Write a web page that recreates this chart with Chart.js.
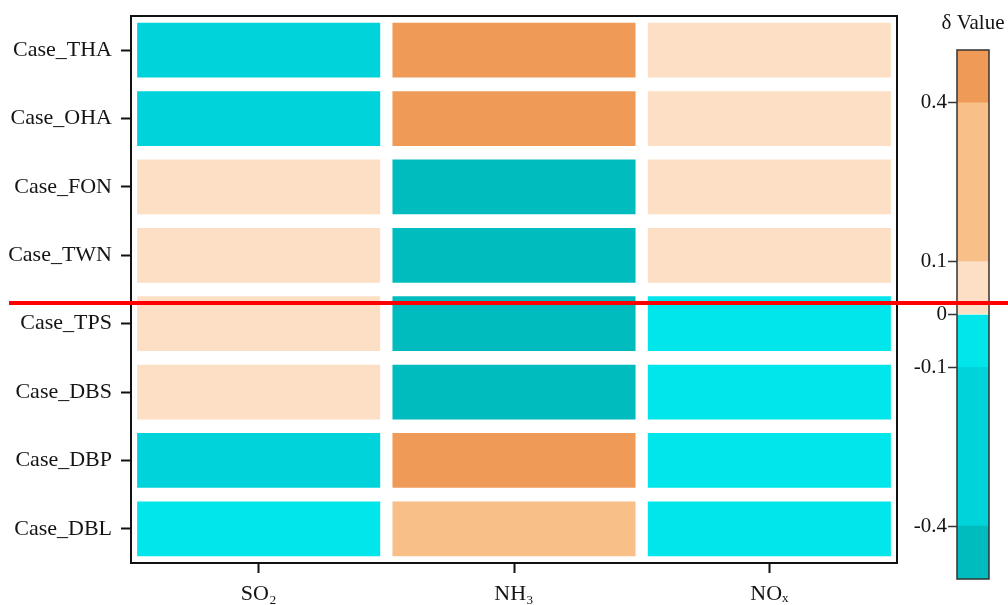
<!DOCTYPE html>
<html>
<head>
<meta charset="utf-8">
<script src="https://cdn.jsdelivr.net/npm/chart.js@4.4.1/dist/chart.umd.min.js"></script>
<style>
  html, body { margin: 0; padding: 0; background: #ffffff; }
  #wrap { position: relative; width: 1008px; height: 605px; }
  canvas { position: absolute; left: 0; top: 0; }
  #cb { pointer-events: none; }
</style>
</head>
<body>
<div id="wrap">
  <canvas id="heat" width="1008" height="605"></canvas>
  <canvas id="cb" width="1008" height="605"></canvas>
</div>
<script>
// Cases (rows) and pollutants (columns)
const cases = ['Case_THA', 'Case_OHA', 'Case_FON', 'Case_TWN', 'Case_TPS', 'Case_DBS', 'Case_DBP', 'Case_DBL'];
const pollutants = ['SO\u2082', 'NH\u2083', 'NO\u2093'];

// δ values per pollutant, one entry per case
const so2 = [-0.25, -0.27, 0.05, 0.06, 0.04, 0.05, -0.22, -0.06];
const nh3 = [0.45, 0.46, -0.45, -0.44, -0.46, -0.43, 0.44, 0.25];
const nox = [0.05, 0.06, 0.04, 0.05, -0.05, -0.06, -0.07, -0.05];

// Discrete colour bins of the δ scale
const binEdges = [-0.5, -0.4, -0.1, 0, 0.1, 0.4, 0.5];
const binColors = ['#00BCBE', '#00D4DA', '#00E6EA', '#FCDFC4', '#F9BF88', '#F09A58'];
const cbTicks = [0.4, 0.1, 0, -0.1, -0.4];

const serif = "'Liberation Serif', 'Times New Roman', serif";
const ink = '#141414';

function colorFor(v) {
  for (let i = 0; i < binColors.length; i++) {
    if (v >= binEdges[i] && v < binEdges[i + 1]) return binColors[i];
  }
  return v < binEdges[0] ? binColors[0] : binColors[binColors.length - 1];
}

const columns = [so2, nh3, nox];
const HALF = 0.4; // half height of a cell in row units

// one dataset per case: a floating bar per pollutant spanning the row
const heatDatasets = cases.map((name, r) => ({
  label: name,
  data: columns.map(() => [r - HALF, r + HALF]),
  backgroundColor: columns.map(col => colorFor(col[r])),
  borderWidth: 0,
  grouped: false,
  barPercentage: 0.952,
  categoryPercentage: 1.0
}));

const frame = {
  id: 'frame',
  afterDatasetsDraw(chart) {
    const { ctx, chartArea: a } = chart;
    ctx.save();
    ctx.strokeStyle = '#111';
    ctx.lineWidth = 2;
    ctx.strokeRect(a.left, a.top, a.right - a.left, a.bottom - a.top);
    ctx.restore();
  }
};

new Chart(document.getElementById('heat'), {
  type: 'bar',
  data: { labels: pollutants, datasets: heatDatasets },
  options: {
    responsive: false,
    animation: false,
    devicePixelRatio: 1,
    events: [],
    layout: { padding: { top: 16, right: 111, left: 0, bottom: 0 } },
    plugins: { legend: { display: false }, tooltip: { enabled: false } },
    scales: {
      x: {
        type: 'category',
        offset: true,
        afterFit(s) { s.height = 42; s.paddingLeft = 0; s.paddingRight = 0; },
        border: { display: false },
        grid: { offset: false, drawOnChartArea: false, drawTicks: true, tickLength: 10, tickWidth: 2, tickColor: '#111' },
        ticks: { color: ink, font: { family: serif, size: 22 }, padding: 8, maxRotation: 0 }
      },
      y: {
        type: 'linear',
        reverse: true,
        min: -0.5,
        max: cases.length - 0.5,
        afterFit(s) { s.width = 131; s.paddingTop = 0; s.paddingBottom = 0; },
        afterBuildTicks(s) { s.ticks = cases.map((_, i) => ({ value: i })); },
        border: { display: false },
        grid: { drawOnChartArea: false, drawTicks: true, tickLength: 10, tickWidth: 2, tickColor: '#111' },
        ticks: {
          color: ink,
          font: { family: serif, size: 22 },
          padding: 9,
          callback: v => cases[v]
        }
      }
    }
  },
  plugins: [frame]
});

// colour bar legend: one floating bar per bin on the δ axis
const cbDatasets = binColors.map((c, i) => ({
  label: String(binEdges[i]),
  data: [[binEdges[i], binEdges[i + 1]]],
  backgroundColor: c,
  borderWidth: 0,
  grouped: false,
  barPercentage: 1.0,
  categoryPercentage: 1.0
}));

const cbDecor = {
  id: 'cbDecor',
  afterDatasetsDraw(chart) {
    const { ctx, chartArea: a } = chart;
    ctx.save();
    ctx.strokeStyle = '#333';
    ctx.lineWidth = 1.5;
    ctx.strokeRect(a.left, a.top, a.right - a.left, a.bottom - a.top);
    ctx.fillStyle = ink;
    ctx.font = '21px ' + serif;
    ctx.textAlign = 'center';
    ctx.textBaseline = 'alphabetic';
    ctx.fillText('\u03B4 Value', 973, 29);
    ctx.restore();
  },
  afterDraw(chart) {
    // red guide line across the whole figure
    const { ctx } = chart;
    ctx.save();
    ctx.strokeStyle = '#FF0000';
    ctx.lineWidth = 4;
    ctx.beginPath();
    ctx.moveTo(9, 303);
    ctx.lineTo(1008, 303);
    ctx.stroke();
    ctx.restore();
  }
};

new Chart(document.getElementById('cb'), {
  type: 'bar',
  data: { labels: [''], datasets: cbDatasets },
  options: {
    responsive: false,
    animation: false,
    devicePixelRatio: 1,
    events: [],
    layout: { padding: { top: 50, bottom: 26, left: 0, right: 19 } },
    plugins: { legend: { display: false }, tooltip: { enabled: false } },
    scales: {
      x: { display: false, offset: true },
      y: {
        type: 'linear',
        min: binEdges[0],
        max: binEdges[binEdges.length - 1],
        afterFit(s) { s.width = 957; },
        afterBuildTicks(s) { s.ticks = cbTicks.map(v => ({ value: v })); },
        border: { display: false },
        grid: { drawOnChartArea: false, drawTicks: true, tickLength: 9, tickWidth: 1.5, tickColor: '#333' },
        ticks: {
          color: ink,
          font: { family: serif, size: 21 },
          padding: 1,
          callback: v => String(v)
        }
      }
    }
  },
  plugins: [cbDecor]
});
</script>
</body>
</html>
